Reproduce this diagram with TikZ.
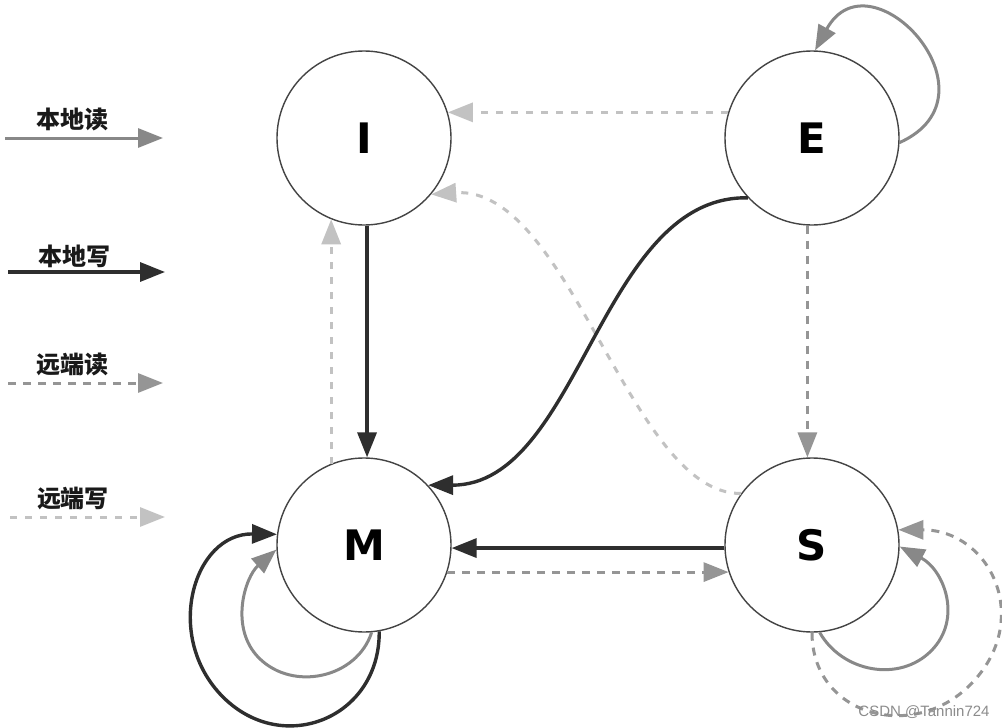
\documentclass[tikz,border=0pt]{standalone}
\usepackage{fontspec}
\setmainfont{DejaVu Sans}
\newfontfamily\cjk{Noto Sans CJK SC}
\newfontfamily\wmfont{Liberation Sans}
\usetikzlibrary{arrows.meta}
\definecolor{cdark}{HTML}{2E2E2E}
\definecolor{cgray}{HTML}{888888}
\definecolor{cmid}{HTML}{959595}
\definecolor{clight}{HTML}{C2C2C2}
\definecolor{cborder}{HTML}{444444}
\tikzset{
  tip/.style={-{Triangle[length=25pt,width=19pt]}},
  state/.style={circle, draw=cborder, line width=1.4pt, fill=white, minimum size=174pt, inner sep=0pt, font=\fontsize{42}{42}\selectfont\bfseries},
  lread/.style={draw=cgray, line width=3pt, tip},
  lwrite/.style={draw=cdark, line width=3.4pt, tip},
  rread/.style={draw=cmid, line width=3pt, dash pattern=on 8pt off 7pt, tip},
  rwrite/.style={draw=clight, line width=3pt, dash pattern=on 7pt off 8pt, tip},
  legtext/.style={font=\cjk\bfseries\fontsize{24}{24}\selectfont, text=black!90},
}
\begin{document}
\begin{tikzpicture}[x=1pt,y=1pt]
\useasboundingbox (0,0) rectangle (1002,-728);
\fill[white] (0,0) rectangle (1002,-728);

% legend
\node[legtext] (t1) at (72,-119) {本地读};
\node[legtext] (t2) at (74,-256) {本地写};
\node[legtext] (t3) at (72,-364) {远端读};
\node[legtext] (t4) at (73,-498) {远端写};
\coordinate (a1s) at (5,-138);  \coordinate (a1e) at (163,-138);
\coordinate (a2s) at (8,-272);  \coordinate (a2e) at (165,-272);
\coordinate (a3s) at (8,-383);  \coordinate (a3e) at (163,-383);
\coordinate (a4s) at (10,-517); \coordinate (a4e) at (165,-517);
\draw[lread]  (a1s) -- (a1e);
\draw[lwrite] (a2s) -- (a2e);
\draw[rread]  (a3s) -- (a3e);
\draw[rwrite] (a4s) -- (a4e);

% states
\node[state] (I) at (364,-138) {I};
\node[state] (E) at (812,-138) {E};
\node[state] (M) at (364,-545) {M};
\node[state] (S) at (812,-545) {S};

% remote write (light dashed)
\draw[rwrite] (E.163) -- (I.17);
\draw[rwrite] (S.144) .. controls (630,-495) and (570,-185) .. (I.-40);
\draw[rwrite] (M.112) -- (I.-112);

% remote read (medium dashed)
\draw[rread] (E.-93) -- (S.93);
\draw[rread] (M.-18) -- (S.198);
\draw[rread] (S.-90) .. controls (812,-715) and (912,-743) .. (970,-685)
                     .. controls (1034,-621) and (991,-530) .. (S.10);

% local write (dark)
\draw[lwrite] (I.-88) -- (M.88);
\draw[lwrite] (E.-137) .. controls (600,-195) and (580,-485) .. (M.43);
\draw[lwrite] (S.182) -- (M.-2);
\draw[lwrite] (M.-80) .. controls (380,-718) and (283,-757) .. (223,-697)
                      .. controls (163,-637) and (193,-533) .. (M.173);

% local read (gray)
\draw[lread] (E.-3) .. controls (1005,-95) and (870,50) .. (E.88);
\draw[lread] (M.-85) .. controls (357,-678) and (293,-692) .. (259,-658)
                     .. controls (229,-628) and (245,-577) .. (M.183);
\draw[lread] (S.-85) .. controls (842,-672) and (899,-683) .. (931,-651)
                     .. controls (963,-619) and (944,-570) .. (S.-1);

% watermark
\node[font=\wmfont\fontsize{15}{15}\selectfont, text=black!45] (wm) at (924,-712) {CSDN @Tannin724};
\end{tikzpicture}
\end{document}
